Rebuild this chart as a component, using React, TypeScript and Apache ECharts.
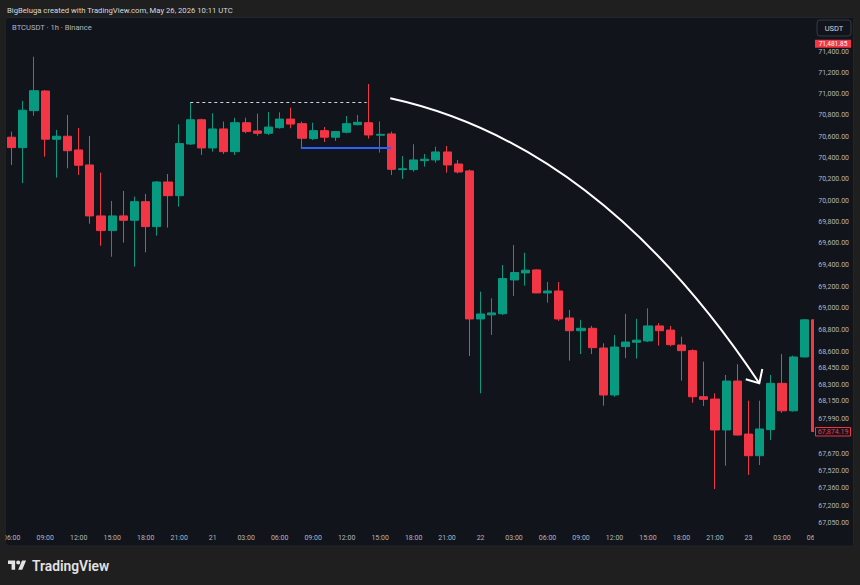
import React, { useEffect, useRef } from "react";
import * as echarts from "echarts";

// ---------- data (BTCUSDT 1h, Binance) ----------
const opens = [
  70595, 70497, 70846, 71032, 70576, 70604, 70475, 70334, 69857, 69720,
  69857, 69816, 69990, 69757, 70174, 70046, 70531, 70760, 70494, 70673,
  70459, 70732, 70654, 70632, 70685, 70766, 70723, 70582, 70657, 70595,
  70642, 70713, 70732, 70614, 70626, 70290, 70290, 70374, 70381, 70456,
  70343, 70278, 68902, 68940, 68950, 69262, 69327, 69355, 69142, 69160,
  68911, 68794, 68816, 68635, 68206, 68648, 68688, 68700, 68838, 68800,
  68663, 68611, 68190, 68169, 67888, 68333, 67851, 67655, 67891, 68312,
  68062, 68553, 68894,
];
const closes = [
  70497, 70850, 71035, 70576, 70604, 70468, 70331, 69857, 69720, 69857,
  69816, 69990, 69757, 70174, 70046, 70535, 70760, 70494, 70673, 70459,
  70732, 70648, 70632, 70691, 70766, 70719, 70585, 70657, 70595, 70648,
  70723, 70736, 70616, 70622, 70293, 70298, 70381, 70388, 70456, 70334,
  70268, 68902, 68948, 68958, 69275, 69331, 69352, 69142, 69160, 68902,
  68794, 68816, 68638, 68206, 68644, 68690, 68707, 68838, 68794, 68666,
  68611, 68190, 68166, 67888, 68333, 67842, 67655, 67897, 68312, 68062,
  68553, 68894, 67874.19,
];
const highs = [
  70648, 70938, 71358, 71040, 70664, 70805, 70682, 70607, 70262, 69997,
  70090, 70037, 70062, 70184, 70249, 70716, 70925, 70770, 70821, 70743,
  70779, 70779, 70817, 70833, 70830, 70874, 70743, 70732, 70691, 70650,
  70795, 70805, 71098, 70743, 70648, 70417, 70529, 70437, 70506, 70512,
  70381, 70290, 69154, 69093, 69400, 69586, 69514, 69360, 69243, 69243,
  68985, 68894, 68838, 68678, 68754, 68949, 68903, 69000, 68863, 68838,
  68739, 68623, 68510, 68221, 68388, 68486, 68154, 68154, 68388, 68580,
  68565, 68900, 68900,
];
const lows = [
  70334, 70163, 70798, 70412, 70215, 70302, 70240, 69784, 69579, 69477,
  69607, 69385, 69518, 69673, 69748, 69943, 70522, 70428, 70459, 70437,
  70428, 70632, 70609, 70616, 70676, 70680, 70491, 70569, 70550, 70560,
  70632, 70707, 70582, 70450, 70240, 70203, 70271, 70318, 70356, 70262,
  70255, 68562, 68221, 68755, 68939, 69114, 69209, 69140, 69052, 68884,
  68520, 68580, 68580, 68108, 68190, 68542, 68539, 68690, 68657, 68651,
  68337, 68135, 68105, 67355, 67565, 67840, 67482, 67571, 67798, 68044,
  68055, 68550, 67860,
];

// time axis: candle index (hours since May 20 06:00) and its label
const timeTickIdx = [0, 3, 6, 9, 12, 15, 18, 21, 24, 27, 30, 33, 36, 39, 42, 45, 48, 51, 54, 57, 60, 63, 66, 69, 72];
const timeTickLabels = [
  "06:00", "09:00", "12:00", "15:00", "18:00", "21:00", "21", "03:00", "06:00",
  "09:00", "12:00", "15:00", "18:00", "21:00", "22", "03:00", "06:00", "09:00",
  "12:00", "15:00", "18:00", "21:00", "23", "03:00", "06:00",
];

// price scale ticks (log scale)
const priceTicks = [
  71400, 71200, 71000, 70800, 70600, 70400, 70200, 70000, 69800, 69600, 69400,
  69200, 69000, 68800, 68600, 68450, 68300, 68150, 67990, 67670, 67520,
  67360, 67200, 67050,
];

// drawings
const dashedLevel = { price: 70925, from: 16, to: 31.8 };
const blueLevel = { price: 70497, from: 25.9, to: 34 };
const arrowPoints = { start: [33.91, 70963], ctrl: [52.71, 70531], end: [66.97, 68313] };
const markPrice = 71481.85;
const lastPrice = closes[closes.length - 1];

const headerText = "BigBeluga created with TradingView.com, May 26, 2026 10:11 UTC";
const symbolText = "BTCUSDT · 1h · Binance";

// ---------- styles ----------
const FRAME = "#1f1f1f";
const PANEL = "#12141c";
const UP = "#089981";
const DOWN = "#f23645";
const LABEL = "#b2b5be";
const FONT = "Roboto, 'Noto Sans', sans-serif";

const LOGO_D =
  "M14 22H7V11H0V4h14v18zM28 22h-8l7.5-18h8L28 22zM24 8a4 4 0 1 1-8 0a4 4 0 1 1 8 0z";
echarts.graphic.registerShape("tvlogo", echarts.graphic.extendPath(LOGO_D, {}));

const fmt = (p: number) =>
  p.toLocaleString("en-US", { minimumFractionDigits: 2, maximumFractionDigits: 2 });

export default function App() {
  const ref = useRef<HTMLDivElement>(null);

  useEffect(() => {
    if (!ref.current) return;
    const chart = echarts.init(ref.current, null, { renderer: "svg" });

    const data = opens.map((o, i) => [
      i,
      Math.log(o),
      Math.log(closes[i]),
      Math.log(lows[i]),
      Math.log(highs[i]),
    ]);

    const option: any = {
      animation: false,
      backgroundColor: FRAME,
      grid: { left: 6, right: 39.5, top: 17, bottom: 56 },
      xAxis: {
        type: "value",
        min: -0.466,
        max: 72.45,
        axisLine: { show: false },
        axisTick: { show: false },
        splitLine: { show: false },
        axisLabel: {
          customValues: timeTickIdx,
          formatter: (v: number) => {
            const j = timeTickIdx.findIndex((t) => Math.abs(t - v) < 0.01);
            return j >= 0 ? timeTickLabels[j] : "";
          },
          color: LABEL,
          fontSize: 7,
          fontFamily: FONT,
          margin: 5,
        },
      },
      yAxis: {
        type: "value",
        position: "right",
        min: Math.log(66996),
        max: Math.log(71737.5),
        z: 60,
        axisLine: { show: false },
        axisTick: { show: false },
        splitLine: { show: false },
        axisLabel: {
          customValues: priceTicks.map((p) => Math.log(p)),
          formatter: (v: number) => fmt(Math.exp(v)),
          align: "right",
          margin: 28.5,
          color: LABEL,
          fontSize: 7,
          fontFamily: FONT,
        },
      },
      series: [
        {
          type: "candlestick",
          data,
          encode: { x: 0, y: [1, 2, 3, 4] },
          barWidth: 8.6,
          itemStyle: {
            color: UP,
            color0: DOWN,
            borderColor: UP,
            borderColor0: DOWN,
            borderWidth: 1,
          },
          markLine: {
            silent: true,
            symbol: ["none", "none"],
            label: { show: false },
            data: [
              [
                { coord: [dashedLevel.from, Math.log(dashedLevel.price)], lineStyle: { color: "#d1d4dc", width: 1, type: [3, 3] } },
                { coord: [dashedLevel.to, Math.log(dashedLevel.price)] },
              ],
              [
                { coord: [blueLevel.from, Math.log(blueLevel.price)], lineStyle: { color: "#2962ff", width: 2, type: "solid" } },
                { coord: [blueLevel.to, Math.log(blueLevel.price)] },
              ],
            ],
          },
        },
      ],
    };

    chart.setOption(option);

    const px = (pt: number[]) =>
      chart.convertToPixel({ gridIndex: 0 }, [pt[0], Math.log(pt[1])]) as number[];
    const s = px(arrowPoints.start);
    const c = px(arrowPoints.ctrl);
    const e = px(arrowPoints.end);
    const yMark = px([0, markPrice])[1];
    const yLast = px([0, lastPrice])[1];

    chart.setOption({
      graphic: [
        {
          type: "rect",
          z: -10,
          shape: { x: 5.5, y: 17.5, width: 848, height: 528.5, r: 4 },
          style: { fill: PANEL, stroke: "#22252e", lineWidth: 1 },
        },
        {
          type: "rect",
          z: 50,
          shape: { x: 0, y: 17, width: 5.5, height: 530 },
          style: { fill: FRAME },
        },
        {
          type: "rect",
          z: 50,
          shape: { x: 814, y: 18, width: 39, height: 527.5 },
          style: { fill: PANEL },
        },
        {
          type: "text",
          z: 70,
          x: 7,
          y: 10,
          style: { text: headerText, fill: "#d8d8d8", font: `7.7px ${FONT}`, verticalAlign: "middle" },
        },
        {
          type: "text",
          z: 70,
          x: 12,
          y: 27,
          style: { text: symbolText, fill: LABEL, font: `7.6px ${FONT}`, verticalAlign: "middle" },
        },
        {
          type: "rect",
          z: 70,
          shape: { x: 817, y: 20, width: 34, height: 16, r: 3 },
          style: { fill: PANEL, stroke: "#363a45", lineWidth: 1 },
        },
        {
          type: "text",
          z: 71,
          x: 834,
          y: 28,
          style: { text: "USDT", fill: "#d1d4dc", font: `7.5px ${FONT}`, align: "center", verticalAlign: "middle" },
        },
        {
          type: "rect",
          z: 70,
          shape: { x: 815, y: yMark - 4, width: 36, height: 8 },
          style: { fill: DOWN },
        },
        {
          type: "text",
          z: 71,
          x: 833,
          y: yMark,
          style: { text: fmt(markPrice), fill: "#ffffff", font: `6.5px ${FONT}`, align: "center", verticalAlign: "middle" },
        },
        {
          type: "rect",
          z: 70,
          shape: { x: 815.5, y: yLast - 4, width: 35, height: 8.5 },
          style: { fill: PANEL, stroke: DOWN, lineWidth: 1 },
        },
        {
          type: "text",
          z: 71,
          x: 833,
          y: yLast + 0.3,
          style: { text: fmt(lastPrice), fill: DOWN, font: `7px ${FONT}`, align: "center", verticalAlign: "middle" },
        },
        {
          type: "bezierCurve",
          z: 40,
          shape: { x1: s[0], y1: s[1], cpx1: c[0], cpy1: c[1], x2: e[0], y2: e[1] },
          style: { stroke: "#ffffff", lineWidth: 2, fill: "none" },
        },
        {
          type: "polyline",
          z: 40,
          shape: { points: [[e[0] - 13.6, e[1] - 4], [e[0], e[1]], [e[0] + 3, e[1] - 14.3]] },
          style: { stroke: "#ffffff", lineWidth: 2, fill: "none" },
        },
        {
          type: "tvlogo",
          z: 70,
          x: 8,
          y: 558.5,
          scaleX: 0.51,
          scaleY: 0.51,
          style: { fill: "#e3e3e3" },
        },
        {
          type: "text",
          z: 70,
          x: 32,
          y: 565.5,
          style: { text: "TradingView", fill: "#e3e3e3", font: `600 13.8px ${FONT}`, verticalAlign: "middle" },
        },
      ],
    });

    return () => chart.dispose();
  }, []);

  return (
    <div
      ref={ref}
      style={{ position: "fixed", left: 0, top: 0, width: 860, height: 585 }}
    />
  );
}
